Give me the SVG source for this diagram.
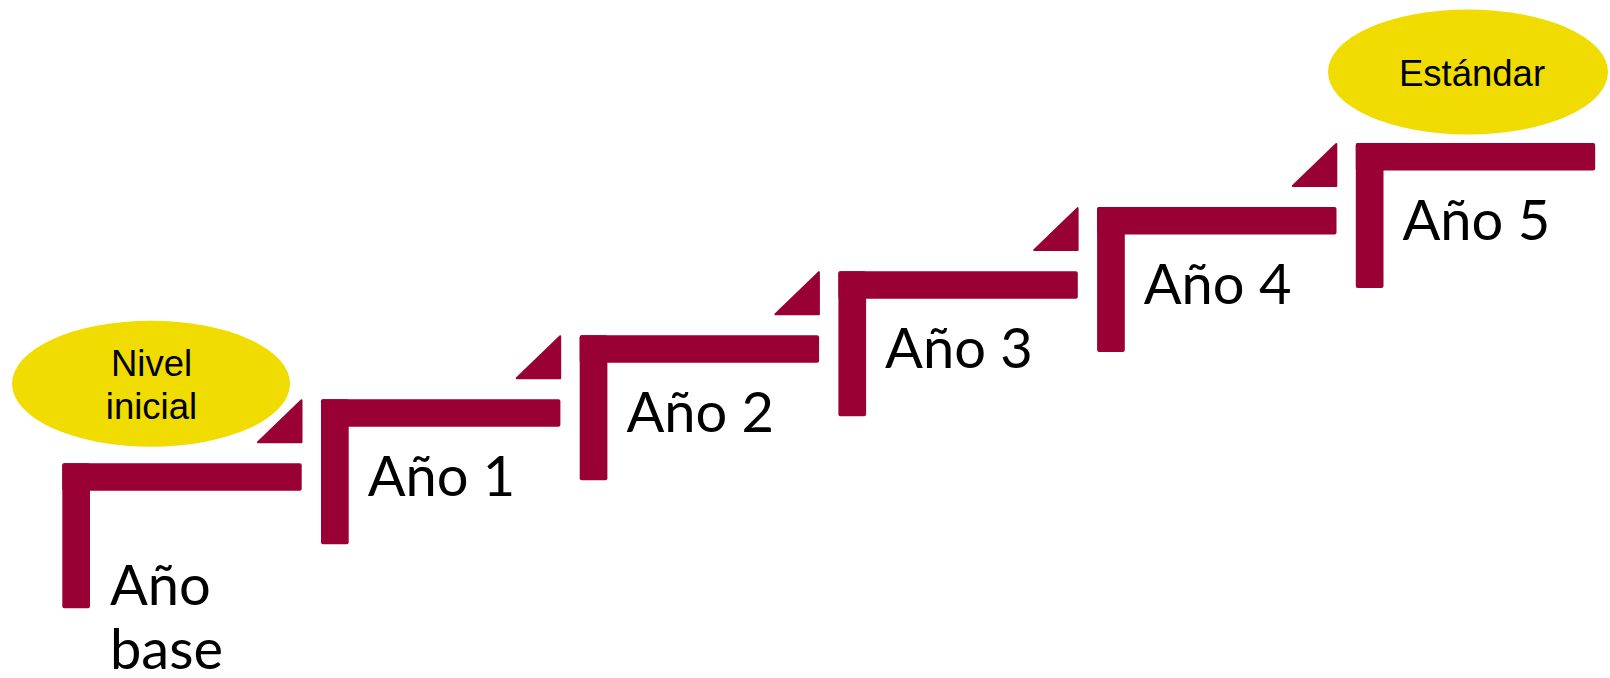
<svg xmlns="http://www.w3.org/2000/svg" width="1610" height="678" viewBox="0 0 1610 678">
<style>
.bar{fill:#990033}
.tri{fill:#990033;stroke:#990033;stroke-width:2;stroke-linejoin:round}
.ell{fill:#F0DC00}
.lbl{font-family:Lato,"Liberation Sans",sans-serif;font-size:56px;fill:#000}
.el{font-family:"Liberation Sans",Arial,sans-serif;font-size:36.5px;fill:#000;text-anchor:middle}
</style>
<rect width="1610" height="678" fill="#fff"/>
<g id="nivel-inicial">
<ellipse class="ell" cx="151" cy="383.7" rx="139" ry="63"/>
<text class="el" x="151.5" y="375.5">Nivel</text>
<text class="el" x="151.5" y="419">inicial</text>
</g>
<g id="estandar">
<ellipse class="ell" cx="1468" cy="72" rx="140" ry="62.5"/>
<text class="el" x="1472" y="85.5">Estándar</text>
</g>
<g id="step-0">
<rect class="bar" x="62.3" y="463.3" width="239.4" height="27.5" rx="2"/>
<rect class="bar" x="62.3" y="463.3" width="27.7" height="145" rx="2"/>
<text class="lbl" x="110" y="605">Año</text>
<text class="lbl" x="110" y="669">base</text>
</g>
<g id="step-1">
<polygon class="tri" points="258,442.25 301.5,400.25 301.5,442.25"/>
<rect class="bar" x="321" y="399.25" width="239.4" height="27.5" rx="2"/>
<rect class="bar" x="321" y="399.25" width="27.7" height="145" rx="2"/>
<text class="lbl" x="367.7" y="496">Año 1</text>
</g>
<g id="step-2">
<polygon class="tri" points="516.7,378.2 560.2,336.2 560.2,378.2"/>
<rect class="bar" x="579.7" y="335.2" width="239.4" height="27.5" rx="2"/>
<rect class="bar" x="579.7" y="335.2" width="27.7" height="145" rx="2"/>
<text class="lbl" x="626.4" y="432">Año 2</text>
</g>
<g id="step-3">
<polygon class="tri" points="775.4,314.15 818.9,272.15 818.9,314.15"/>
<rect class="bar" x="838.4" y="271.15" width="239.4" height="27.5" rx="2"/>
<rect class="bar" x="838.4" y="271.15" width="27.7" height="145" rx="2"/>
<text class="lbl" x="885.1" y="368">Año 3</text>
</g>
<g id="step-4">
<polygon class="tri" points="1034.1,250.1 1077.6,208.1 1077.6,250.1"/>
<rect class="bar" x="1097.1" y="207.1" width="239.4" height="27.5" rx="2"/>
<rect class="bar" x="1097.1" y="207.1" width="27.7" height="145" rx="2"/>
<text class="lbl" x="1143.8" y="304">Año 4</text>
</g>
<g id="step-5">
<polygon class="tri" points="1292.8,186.05 1336.3,144.05 1336.3,186.05"/>
<rect class="bar" x="1355.8" y="143.05" width="239.4" height="27.5" rx="2"/>
<rect class="bar" x="1355.8" y="143.05" width="27.7" height="145" rx="2"/>
<text class="lbl" x="1402.5" y="240">Año 5</text>
</g>
<g id="connectors"/>
</svg>
